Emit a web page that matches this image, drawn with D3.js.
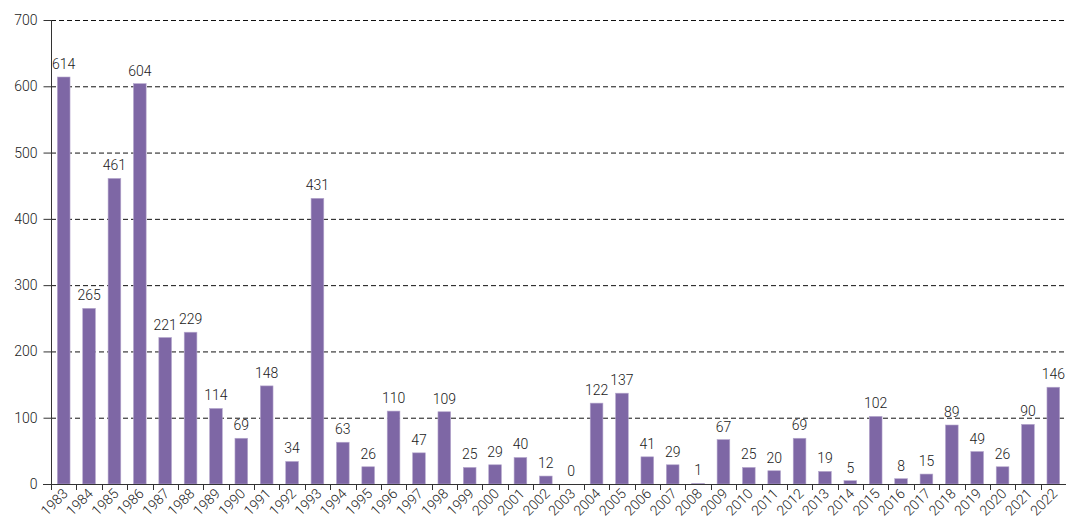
<!DOCTYPE html>
<html><head><meta charset="utf-8">
<script src="https://cdn.jsdelivr.net/npm/d3@7"></script>
<style>
html,body{margin:0;padding:0;background:#fff;}
text{font-family:Roboto,"Liberation Sans",sans-serif;font-weight:300;}
</style></head>
<body>
<svg id="c" width="1066" height="519"></svg>
<script>
const years = ["1983","1984","1985","1986","1987","1988","1989","1990","1991","1992","1993","1994","1995","1996","1997","1998","1999","2000","2001","2002","2003","2004","2005","2006","2007","2008","2009","2010","2011","2012","2013","2014","2015","2016","2017","2018","2019","2020","2021","2022"];
const values = [614,265,461,604,221,229,114,69,148,34,431,63,26,110,47,109,25,29,40,12,0,122,137,41,29,1,67,25,20,69,19,5,102,8,15,89,49,26,90,146];
const yTicks = [0,100,200,300,400,500,600,700];

(function(){
const svg = d3.select("#c");
const pl = 51, pr = 1066, pt = 20, pb = 484;
const ff = "Roboto,'Liberation Sans',sans-serif";
const x = d3.scaleBand().domain(years).range([pl, pr]).paddingInner(0.5).paddingOuter(0.25);
const xb = d3.scaleBand().domain(years).range([pl, pr]);
const y = d3.scaleLinear().domain([0,700]).range([pb, pt]);

// gridlines
svg.append("g").selectAll("line").data(yTicks.filter(d=>d>0)).join("line")
  .attr("x1", pl).attr("x2", 1064)
  .attr("y1", d=>y(d)+0.5).attr("y2", d=>y(d)+0.5)
  .attr("stroke", "#111").attr("stroke-width", 1).attr("stroke-dasharray", "5,3");

// bars
svg.append("g").selectAll("rect").data(values).join("rect")
  .attr("x", (d,i)=>x(years[i]))
  .attr("width", x.bandwidth())
  .attr("y", d=>y(d))
  .attr("height", d=>pb - y(d))
  .attr("fill", "#7e67a5")
  .attr("stroke", "#b6a8cd").attr("stroke-width", 0.6);

// value labels
svg.append("g").selectAll("text").data(values).join("text")
  .attr("x", (d,i)=>x(years[i]) + x.bandwidth()/2)
  .attr("y", d=>y(d) - 8)
  .attr("text-anchor", "middle")
  .attr("font-size", 14)
  .attr("fill", "#1a1a1a")
  .text(d=>d);

// y axis
const yAxis = d3.axisLeft(y).tickValues(yTicks).tickSize(8).tickPadding(6);
const gy = svg.append("g").attr("transform", `translate(${pl+0.5},0)`).call(yAxis);
gy.select(".domain").attr("stroke", "#333").attr("d", `M0,${pt}V${pb}`);
gy.selectAll(".tick line").attr("stroke", "#333");
gy.selectAll(".tick text").attr("font-size", 14).attr("fill", "#1a1a1a").attr("font-family", ff).attr("font-weight", 300);

// x axis
const xAxis = d3.axisBottom(xb).tickSize(0).tickFormat(d=>d);
const gx = svg.append("g").attr("transform", `translate(0,${pb+0.5})`).call(xAxis);
gx.select(".domain").attr("stroke", "#333").attr("d", `M43,0H1066`);
gx.selectAll(".tick text")
  .attr("font-size", 14).attr("fill", "#1a1a1a").attr("font-family", ff).attr("font-weight", 300)
  .attr("text-anchor", "end")
  .attr("dy", null).attr("y", 0)
  .attr("transform", "translate(5,10) rotate(-45)");

// boundary ticks
svg.append("g").selectAll("line").data(years).join("line")
  .attr("x1", d=>Math.round(xb(d))+0.5).attr("x2", d=>Math.round(xb(d))+0.5)
  .attr("y1", pb).attr("y2", pb+6)
  .attr("stroke", "#333");
})();
</script>
</body></html>
